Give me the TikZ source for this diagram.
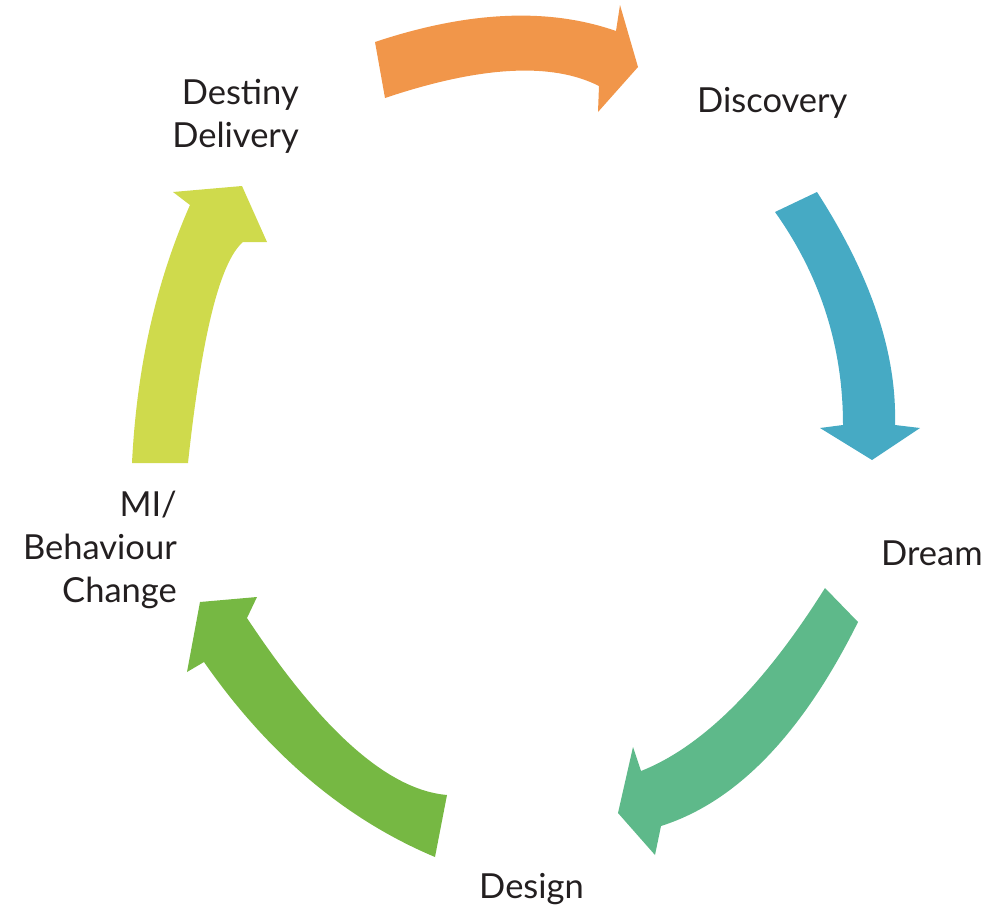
\documentclass[tikz,border=0pt]{standalone}
\usepackage{fontspec}
\setmainfont{Lato}
\begin{document}
\begin{tikzpicture}[x=1pt,y=-1pt,
  lbl/.style={inner sep=0pt, text=labelgray,
    font=\fontsize{34.5}{43}\selectfont},
  band/.style={draw=none}]
\definecolor{labelgray}{HTML}{231F20}
\definecolor{cOrange}{HTML}{F1964A}
\definecolor{cBlue}{HTML}{46AAC4}
\definecolor{cTeal}{HTML}{5EB98A}
\definecolor{cGreen}{HTML}{76B843}
\definecolor{cLime}{HTML}{CFDA4C}
\useasboundingbox (0,0) rectangle (991,910);

% arrow over the top, towards Discovery
\fill[band, cOrange] (375,42)
  .. controls (468,11) and (548.3,7.3) .. (616,31)
  -- (620,5) -- (638,67) -- (598,112) -- (599,86)
  .. controls (551.7,62) and (480.3,66) .. (385,98)
  -- cycle;

% right-hand arrow, down towards Dream
\fill[band, cBlue] (775,212)
  .. controls (820.3,275.7) and (843,346.7) .. (843,425)
  -- (820,428) -- (872,460) -- (920,428) -- (895,425)
  .. controls (897,353.3) and (871,275.7) .. (817,192)
  -- cycle;

% lower right arrow, towards Design
\fill[band, cTeal] (858,622)
  .. controls (802.3,734) and (736.7,802) .. (661,826)
  -- (655,855) -- (618,813) -- (633,747) -- (641,771)
  .. controls (702.3,746.7) and (763.7,685.7) .. (825,588)
  -- cycle;

% lower left arrow, towards MI / Behaviour Change
\fill[band, cGreen] (447,795) -- (435,857)
  .. controls (345.3,819.3) and (268.3,754.3) .. (204,662)
  -- (187,672) -- (200,602) -- (257,597) -- (247,618)
  .. controls (321.7,731) and (388.3,790) .. (447,795)
  -- cycle;

% left arrow, up towards Destiny Delivery
\fill[band, cLime] (132,463) -- (188,463)
  .. controls (201.7,335.3) and (220,261.7) .. (243,242)
  -- (267,242) -- (242,186) -- (173,192) -- (190,205)
  .. controls (156,281.7) and (136.7,367.7) .. (132,463)
  -- cycle;

% stage labels
\node[lbl, anchor=base west] (discovery) at (697,112) {Discovery};
\node[lbl, anchor=base west] (dream) at (881,565) {Dream};
\node[lbl, anchor=base west] (design) at (479,898) {Design};
\node[lbl, anchor=base east, align=right] (change) at (177,602) {MI/\\Behaviour\\Change};
\node[lbl, anchor=base east, align=right] (destiny) at (299,147) {Destiny\\Delivery};
\end{tikzpicture}
\end{document}
